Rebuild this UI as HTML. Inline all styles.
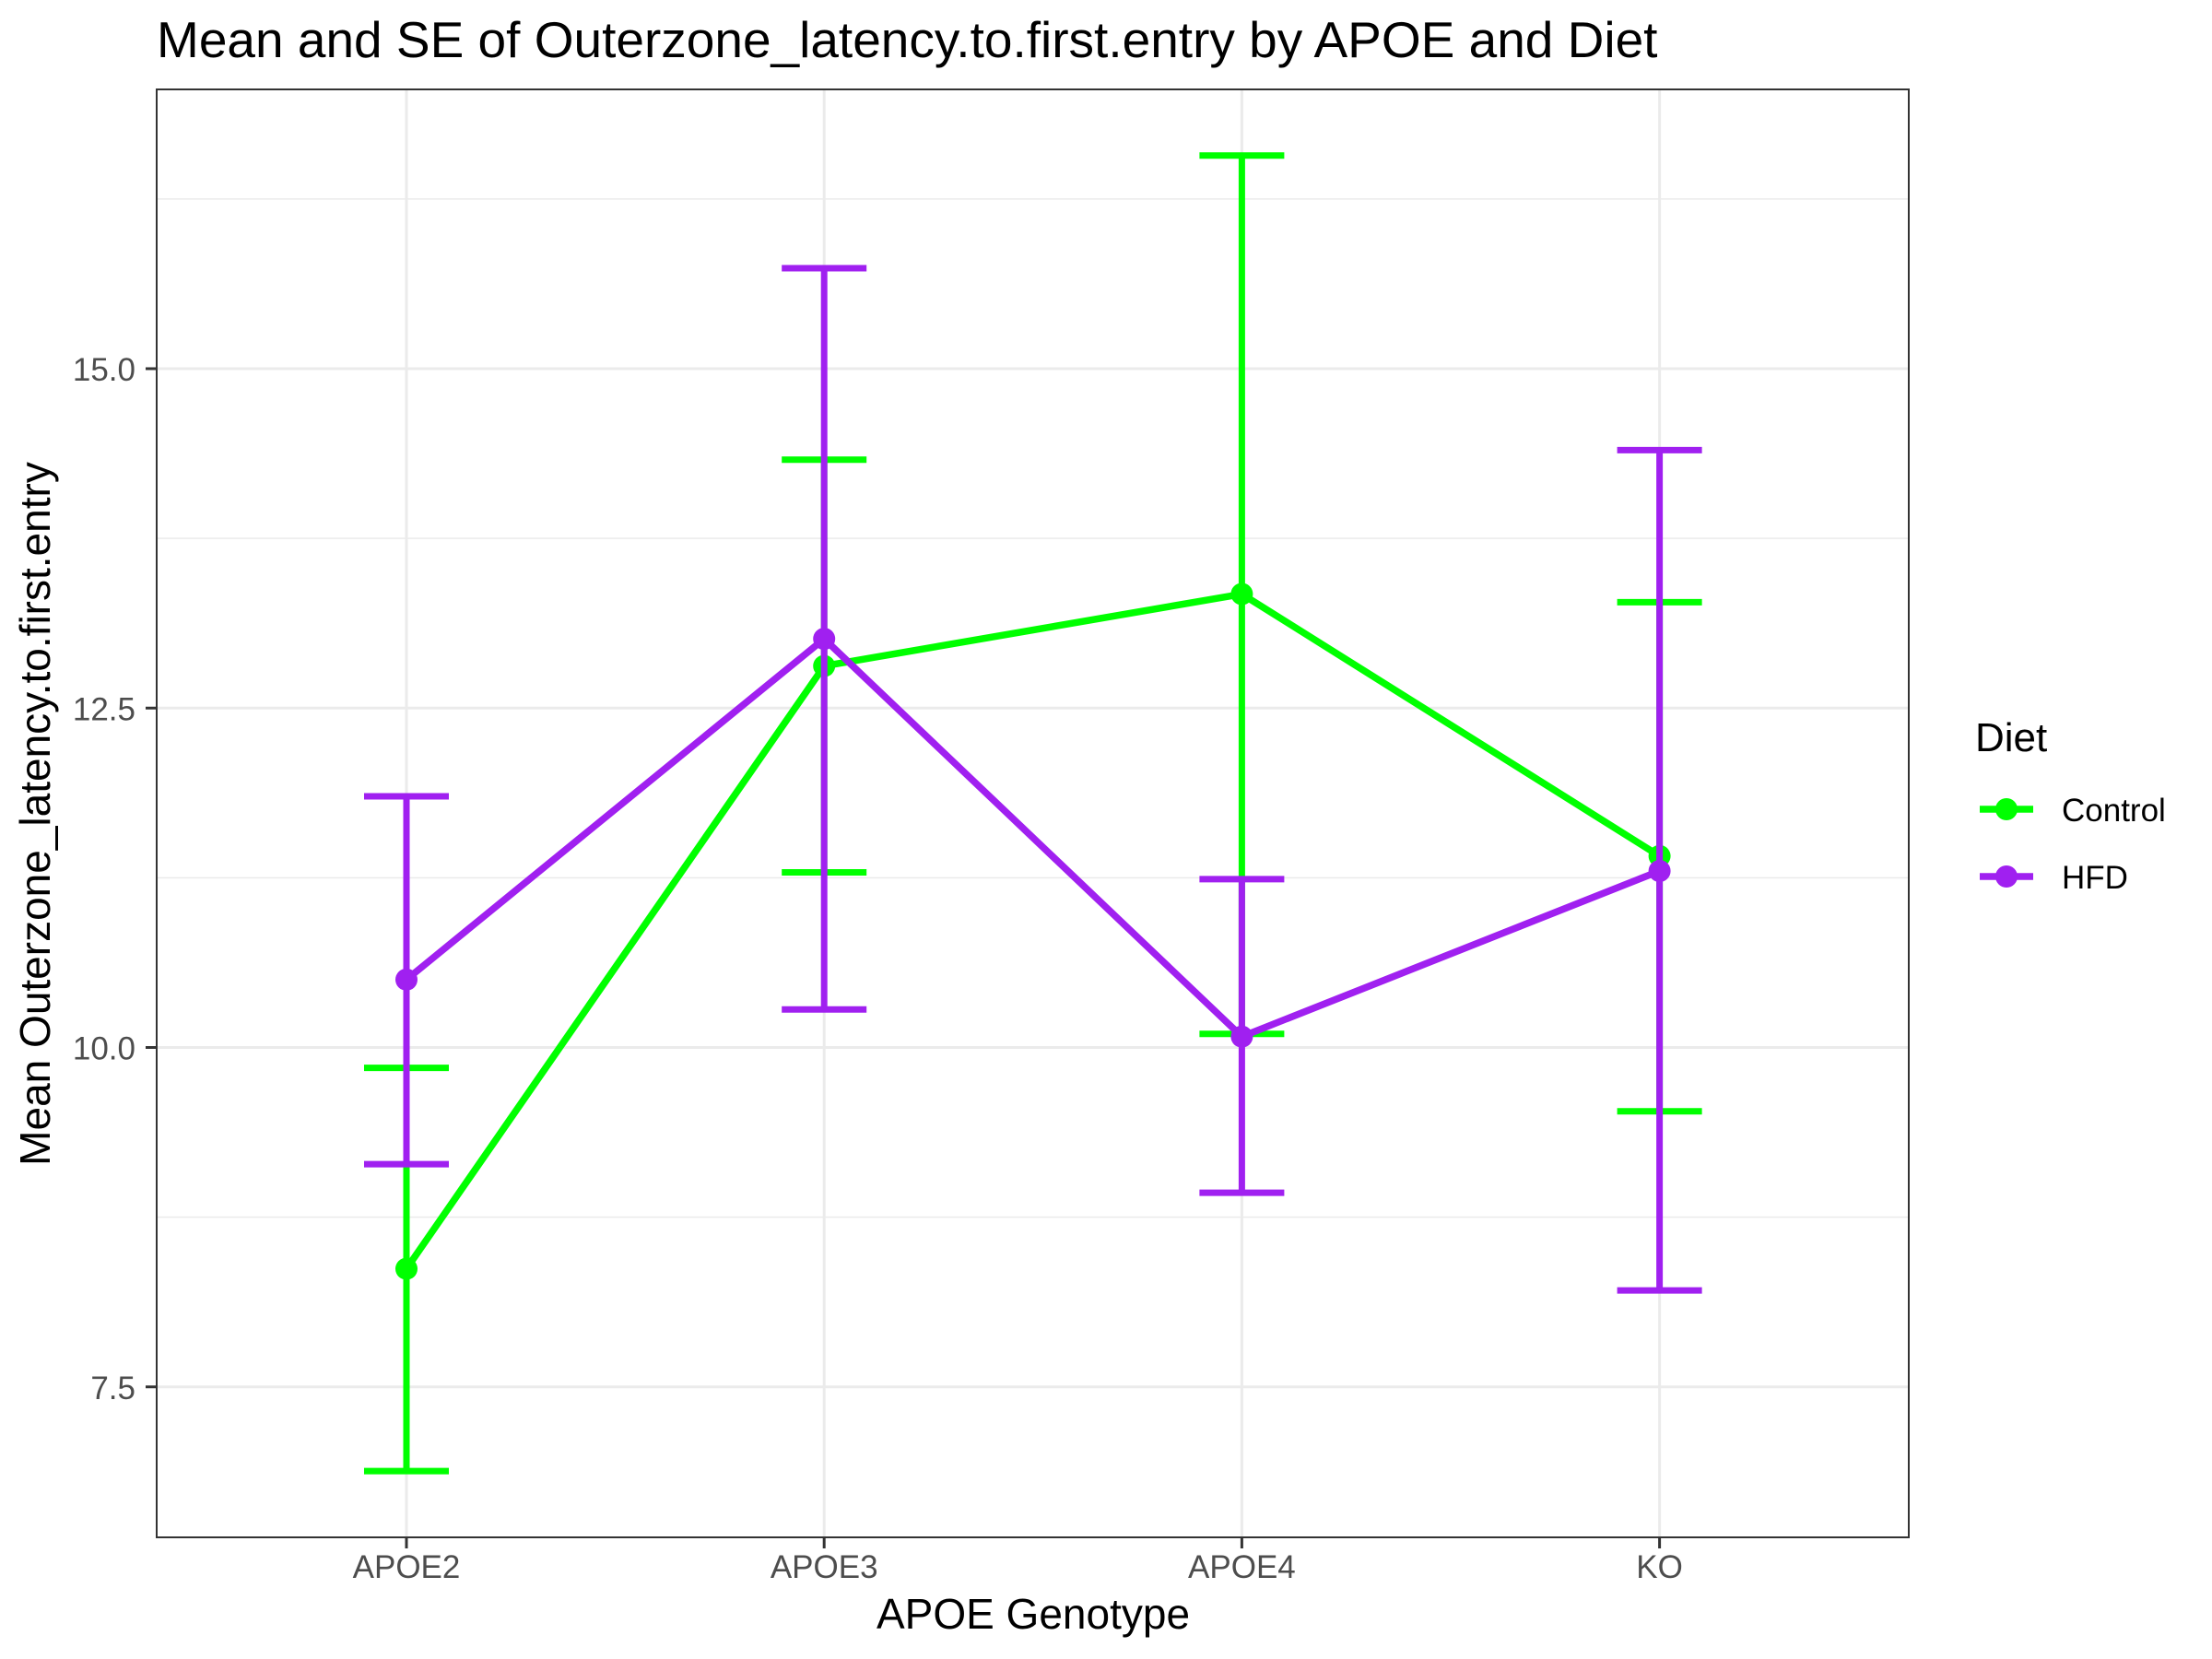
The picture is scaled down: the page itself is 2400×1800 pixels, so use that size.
<!DOCTYPE html>
<html><head><meta charset="utf-8">
<style>
html,body{margin:0;padding:0;background:#fff;}
svg{display:block;font-family:"Liberation Sans",Arial,sans-serif;}
</style></head>
<body>
<svg id="chart" width="2400" height="1800" viewBox="0 0 2400 1800" xmlns="http://www.w3.org/2000/svg">
<rect x="0" y="0" width="2400" height="1800" fill="#fff"/>
<text x="170" y="62" font-size="55" fill="#000">Mean and SE of Outerzone_latency.to.first.entry by APOE and Diet</text>
<g id="grid"></g>
<g id="marks"></g>
<rect x="170" y="97" width="1901" height="1571" fill="none" stroke="#333" stroke-width="2"/>
<g id="axes"></g>
<text x="1121" y="1767" font-size="46" text-anchor="middle" fill="#000">APOE Genotype</text>
<text transform="translate(54,883) rotate(-90)" font-size="46" text-anchor="middle" fill="#000">Mean Outerzone_latency.to.first.entry</text>
<g>
<text x="2143" y="815" font-size="44" fill="#000">Diet</text>
<g>
<line x1="2148" y1="878" x2="2206" y2="878" stroke="#00FF00" stroke-width="7.5"/>
<circle cx="2177" cy="878" r="12" fill="#00FF00"/>
<text x="2237" y="891" font-size="35" fill="#000">Control</text>
</g>
<g>
<line x1="2148" y1="951" x2="2206" y2="951" stroke="#A020F0" stroke-width="7.5"/>
<circle cx="2177" cy="951" r="12" fill="#A020F0"/>
<text x="2237" y="964" font-size="35" fill="#000">HFD</text>
</g>
</g>
</svg>
<script>
const categories = ["APOE2","APOE3","APOE4","KO"];
const controlMean = [8.37, 12.81, 13.34, 11.41];
const controlLower = [6.88, 11.29, 10.10, 9.53];
const controlUpper = [9.85, 14.33, 16.57, 13.28];
const hfdMean = [10.50, 13.01, 10.08, 11.30];
const hfdLower = [9.14, 10.28, 8.93, 8.21];
const hfdUpper = [11.85, 15.74, 11.24, 14.40];
const yTicks = [7.5, 10.0, 12.5, 15.0];
const yTickLabels = ["7.5","10.0","12.5","15.0"];
const yMinor = [8.75, 11.25, 13.75, 16.25];

const NS = "http://www.w3.org/2000/svg";
function xPos(i){ return 441 + i*453.2; }
function yPos(v){ return 400 + (15 - v)*147.3; }
function mk(tag, attrs, parent){
  const e = document.createElementNS(NS, tag);
  for (const k in attrs) e.setAttribute(k, attrs[k]);
  parent.appendChild(e); return e;
}
const grid = document.getElementById("grid");
const marks = document.getElementById("marks");
const axes = document.getElementById("axes");
const L = 170, R = 2071, T = 97, B = 1668;

yMinor.forEach(v => {
  const y = yPos(v); if (y < T || y > B) return;
  const l = mk("line", {x1:L, x2:R, y1:y, y2:y, stroke:"#EBEBEB", "stroke-width":1.5}, grid);
  
  
});
yTicks.forEach((v, i) => {
  const y = yPos(v);
  const l = mk("line", {x1:L, x2:R, y1:y, y2:y, stroke:"#EBEBEB", "stroke-width":3}, grid);
  
  
  const t = mk("line", {x1:158, x2:L, y1:y, y2:y, stroke:"#333", "stroke-width":3}, axes);
  
  
  const tx = mk("text", {x:147, y:y+13, "font-size":35, fill:"#4D4D4D", "text-anchor":"end"}, axes);
  tx.textContent = yTickLabels[i];
  
  
});
categories.forEach((c, i) => {
  const x = xPos(i);
  const l = mk("line", {x1:x, x2:x, y1:T, y2:B, stroke:"#EBEBEB", "stroke-width":3}, grid);
  
  
  const t = mk("line", {x1:x, x2:x, y1:B, y2:B+12, stroke:"#333", "stroke-width":3}, axes);
  
  
  const tx = mk("text", {x:x, y:1712, "font-size":35, fill:"#4D4D4D", "text-anchor":"middle"}, axes);
  tx.textContent = c;
  
  
});

const series = [
  {name:"control", color:"#00FF00", mean:controlMean, lo:controlLower, hi:controlUpper},
  {name:"hfd", color:"#A020F0", mean:hfdMean, lo:hfdLower, hi:hfdUpper}
];
series.forEach(s => {
  const g = mk("g", {}, marks);
  
  
  s.mean.forEach((m, i) => {
    const x = xPos(i), y1 = yPos(s.lo[i]), y2 = yPos(s.hi[i]);
    const eb = mk("path", {d:`M${x-46},${y1}H${x+46}M${x},${y1}V${y2}M${x-46},${y2}H${x+46}`, stroke:s.color, "stroke-width":7, fill:"none"}, g);
    
    
  });
  const pts = s.mean.map((m, i) => xPos(i) + "," + yPos(m)).join(" ");
  const pl = mk("polyline", {points:pts, stroke:s.color, "stroke-width":7.5, fill:"none", "stroke-linejoin":"round"}, g);
  
  
  s.mean.forEach((m, i) => {
    const c = mk("circle", {cx:xPos(i), cy:yPos(m), r:12, fill:s.color}, g);
    
    
  });
});
</script>
</body></html>
